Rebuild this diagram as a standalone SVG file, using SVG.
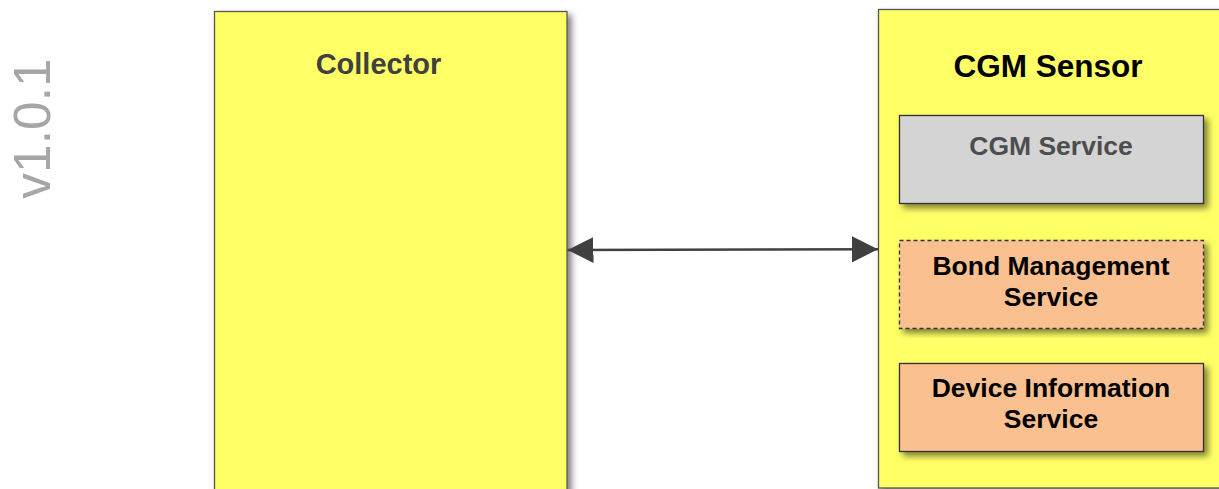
<svg xmlns="http://www.w3.org/2000/svg" width="1219" height="489" viewBox="0 0 1219 489">
<style>
  .lbl{font-family:"Liberation Sans",Arial,sans-serif;font-weight:bold;text-anchor:middle}
  .outer{fill:#FFFF66;stroke:#555555;stroke-width:1.3}
  .svc{stroke:#333333;stroke-width:1.3}
</style>
<defs>
  <filter id="sh" x="-10%" y="-10%" width="130%" height="130%">
    <feDropShadow dx="4" dy="4" stdDeviation="3" flood-color="#000000" flood-opacity="0.5"/>
  </filter>
  <marker id="ah" viewBox="0 0 26 26" refX="26" refY="13" markerWidth="26" markerHeight="26" markerUnits="userSpaceOnUse" orient="auto-start-reverse">
    <path d="M0,0 L26,13 L0,26 Z" fill="#404040"/>
  </marker>
</defs>
<rect width="1219" height="489" fill="#ffffff"/>
<text transform="translate(50,128.5) rotate(-90)" font-family="Liberation Sans,Arial,sans-serif" font-size="51.5" fill="#a6a6a6" text-anchor="middle">v1.0.1</text>

<g id="collector">
  <rect class="outer" x="214.5" y="11.5" width="352.5" height="500" filter="url(#sh)"/>
  <text class="lbl" x="378.5" y="74" font-size="29" fill="#404040">Collector</text>
</g>

<g id="cgm-sensor">
  <rect class="outer" x="878.5" y="9.5" width="360" height="478.5" filter="url(#sh)"/>
  <text class="lbl" x="1048" y="77" font-size="31.5" fill="#000000">CGM Sensor</text>
</g>

<g id="cgm-service">
  <rect class="svc" x="899.5" y="115.5" width="304" height="88" fill="#D4D4D4" filter="url(#sh)"/>
  <text class="lbl" x="1051" y="155" font-size="26.5" fill="#4d4d4d">CGM Service</text>
</g>

<g id="bond-management-service">
  <rect class="svc" x="899.5" y="240.5" width="304" height="88" fill="#FAC090" stroke-dasharray="4,3" filter="url(#sh)"/>
  <text class="lbl" font-size="26.5" fill="#000000"><tspan x="1051" y="275">Bond Management</tspan><tspan x="1051" y="306">Service</tspan></text>
</g>

<g id="device-information-service">
  <rect class="svc" x="899.5" y="363.5" width="304" height="88" fill="#FAC090" filter="url(#sh)"/>
  <text class="lbl" font-size="26.5" fill="#000000"><tspan x="1051" y="397">Device Information</tspan><tspan x="1051" y="428">Service</tspan></text>
</g>

<g id="connectors">
  <line x1="567.5" y1="250" x2="878" y2="249.3" stroke="#404040" stroke-width="2.5" marker-start="url(#ah)" marker-end="url(#ah)"/>
</g>
</svg>
